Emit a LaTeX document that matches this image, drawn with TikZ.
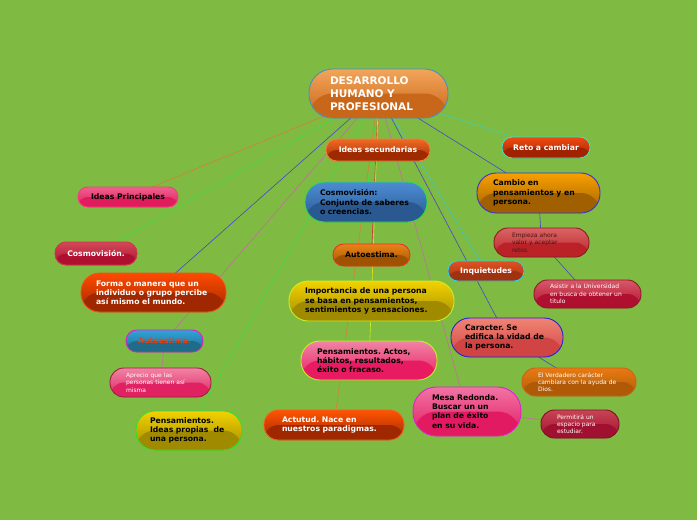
\documentclass[tikz,border=0pt]{standalone}
\usepackage{fontspec}
\setmainfont{DejaVu Sans}
\usetikzlibrary{backgrounds}
\frenchspacing
\definecolor{bgc}{HTML}{7FBA42}
\definecolor{rootT}{HTML}{F2A55A}\definecolor{rootB}{HTML}{C8661A}\definecolor{rootD}{HTML}{4A8EC8}
\definecolor{isT}{HTML}{F26A24}\definecolor{isB}{HTML}{A02A00}\definecolor{isD}{HTML}{F28040}
\definecolor{reT}{HTML}{F04A12}\definecolor{reB}{HTML}{A02200}\definecolor{reD}{HTML}{40E0C0}
\definecolor{ipT}{HTML}{F0608E}\definecolor{ipB}{HTML}{E01C5C}\definecolor{ipD}{HTML}{F04080}
\definecolor{cbT}{HTML}{4C8CD4}\definecolor{cbB}{HTML}{2A5890}\definecolor{cbD}{HTML}{30E040}
\definecolor{caT}{HTML}{F8A000}\definecolor{caB}{HTML}{A06000}\definecolor{caD}{HTML}{3434D8}
\definecolor{drT}{HTML}{D24858}\definecolor{drB}{HTML}{B01030}\definecolor{drD}{HTML}{C83848}
\definecolor{aoT}{HTML}{E88418}\definecolor{aoB}{HTML}{A05200}\definecolor{aoD}{HTML}{E83030}
\definecolor{emT}{HTML}{DA6464}\definecolor{emB}{HTML}{BA2228}\definecolor{emD}{HTML}{8C1C20}
\definecolor{emX}{HTML}{4A1414}
\definecolor{inT}{HTML}{E05224}\definecolor{inB}{HTML}{A03210}\definecolor{inD}{HTML}{28D4E8}
\definecolor{foT}{HTML}{FF4A00}\definecolor{foB}{HTML}{A02800}\definecolor{foD}{HTML}{F05418}
\definecolor{yeT}{HTML}{F2D200}\definecolor{yeB}{HTML}{A08A00}\definecolor{yeD}{HTML}{C8F028}
\definecolor{asT}{HTML}{D85868}\definecolor{asB}{HTML}{B01030}\definecolor{asD}{HTML}{8C1C28}
\definecolor{abT}{HTML}{30A4DA}\definecolor{abB}{HTML}{206A8A}\definecolor{abD}{HTML}{E020C0}
\definecolor{abX}{HTML}{F04010}
\definecolor{crT}{HTML}{F08474}\definecolor{crB}{HTML}{D04444}\definecolor{crD}{HTML}{2424E0}
\definecolor{paT}{HTML}{F084A4}\definecolor{paB}{HTML}{E81A62}\definecolor{paD}{HTML}{C8F028}
\definecolor{apT}{HTML}{F084A4}\definecolor{apB}{HTML}{E02262}\definecolor{apD}{HTML}{A02040}
\definecolor{vdT}{HTML}{E87A12}\definecolor{vdB}{HTML}{B05A08}\definecolor{vdD}{HTML}{C86418}
\definecolor{meT}{HTML}{F274A4}\definecolor{meB}{HTML}{E21A62}\definecolor{meD}{HTML}{E020D8}
\definecolor{piD}{HTML}{30E030}
\definecolor{acT}{HTML}{FF5400}\definecolor{acB}{HTML}{A02800}\definecolor{acD}{HTML}{F06424}
\definecolor{peT}{HTML}{C84454}\definecolor{peB}{HTML}{A01030}\definecolor{peD}{HTML}{801028}
\definecolor{lOr}{HTML}{D88030}\definecolor{lGr}{HTML}{40E040}\definecolor{lBl}{HTML}{4848C8}
\definecolor{lPk}{HTML}{C070A0}\definecolor{lRd}{HTML}{E03030}\definecolor{lYe}{HTML}{E0E020}
\definecolor{lTe}{HTML}{40D0B0}\definecolor{lCy}{HTML}{40C8C8}\definecolor{lYg}{HTML}{C8F020}
\begin{document}
\begin{tikzpicture}[x=1pt,y=-1pt,
  bub/.style n args={3}{draw=#3, line width=0.9pt, top color=#1, bottom color=#2,
     path picture={\fill[#2] (path picture bounding box.west) rectangle (path picture bounding box.south east);}},
  sz/.style n args={2}{minimum width=#1pt, minimum height=#2pt, rounded corners={0.48*#2pt}, inner sep=0pt},
  txt/.style={font=\bfseries\fontsize{7.7}{9.2}\selectfont},
  sm/.style={font=\fontsize{6}{7.3}\selectfont},
  ml/.style={align=left, text width=#1pt},
  conn/.style={line width=0.6pt},
]
\node[bub={rootT}{rootB}{rootD}, sz={139}{49}, font=\bfseries\fontsize{10.5}{13}\selectfont, text=white, ml=97] (root) at (378.5,93.5) {DESARROLLO\\HUMANO Y\\PROFESIONAL};
\node[bub={isT}{isB}{isD}, sz={104}{22}, txt, text=white] (ideasS) at (378,150) {Ideas secundarias};
\node[bub={reT}{reB}{reD}, sz={88}{21}, txt, text=white] (reto) at (546,147.5) {Reto a cambiar};
\node[bub={ipT}{ipB}{ipD}, sz={100}{20}, txt] (ideasP) at (128,197) {Ideas Principales};
\node[bub={cbT}{cbB}{cbD}, sz={122}{40}, txt, ml=92] (cosmoB) at (366,202) {Cosmovisión:\\Conjunto de saberes\\o creencias.};
\node[bub={caT}{caB}{caD}, sz={123}{40}, txt, ml=91] (cambio) at (538.5,193) {Cambio en\\pensamientos y en\\persona.};
\node[bub={drT}{drB}{drD}, sz={82}{23}, txt, text=white] (cosmo) at (96,253.5) {Cosmovisión.};
\node[bub={aoT}{aoB}{aoD}, sz={77}{22}, txt] (autoO) at (371.5,255) {Autoestima.};
\node[bub={emT}{emB}{emD}, sz={95}{29}, sm, text=emX, ml=59] (empieza) at (541.5,242.5) {Empieza ahora\\valor y aceptar\\retos.};
\node[bub={inT}{inB}{inD}, sz={76}{20}, txt, text=white] (inq) at (486,271) {Inquietudes};
\node[bub={foT}{foB}{foD}, sz={145}{39}, txt, text=white, ml=115] (forma) at (153.5,292.5) {Forma o manera que un\\individuo o grupo percibe\\así mismo el mundo.};
\node[bub={yeT}{yeB}{yeD}, sz={165}{40}, txt, ml=133] (imp) at (371.5,301) {Importancia de una persona\\se basa en pensamientos,\\sentimientos y sensaciones.};
\node[bub={asT}{asB}{asD}, sz={107}{28}, sm, text=white, ml=75] (asistir) at (587.5,294) {Asistir a la Universidad\\en busca de obtener un\\titulo};
\node[bub={abT}{abB}{abD}, sz={77}{22}, txt, text=abX] (autoB) at (164.5,341) {Autoestima.};
\node[bub={crT}{crB}{crD}, sz={112}{39}, txt, ml=84] (caracter) at (507,337.5) {Caracter. Se\\edifica la vidad de\\la persona.};
\node[bub={paT}{paB}{paD}, sz={136}{39}, txt, ml=104] (pensA) at (369,360.5) {Pensamientos. Actos,\\hábitos, resultados,\\éxito o fracaso.};
\node[bub={apT}{apB}{apD}, sz={101}{29}, sm, text=white, ml=69] (aprecio) at (160.5,382.5) {Aprecio que las\\personas tienen así\\misma};
\node[bub={vdT}{vdB}{vdD}, sz={114}{28}, sm, text=white, ml=82] (verd) at (579,382) {El Verdadero carácter\\cambiara con la ayuda de\\Dios.};
\node[bub={meT}{meB}{meD}, sz={108}{49}, txt, ml=70] (mesa) at (467,411.5) {Mesa Redonda.\\Buscar un un\\plan de éxito\\en su vida.};
\node[bub={yeT}{yeB}{piD}, sz={106}{39}, txt, ml=78] (pensI) at (189,430.5) {Pensamientos.\\Ideas propias~ de\\una persona.};
\node[bub={acT}{acB}{acD}, sz={140}{30}, txt, text=white, ml=104] (actutud) at (334,425) {Actutud. Nace en\\nuestros paradigmas.};
\node[bub={peT}{peB}{peD}, sz={78}{28}, sm, text=white, ml=46] (perm) at (580,424) {Permitirá un\\espacio para\\estudiar.};
\begin{scope}[on background layer]
\fill[bgc] (0,0) rectangle (697,520);
\draw[conn, draw=lOr] (root.center) -- (ideasP.center);
\draw[conn, draw=lGr] (root.center) -- (cosmo.center);
\draw[conn, draw=lBl] (root.center) -- (forma.center);
\draw[conn, draw=lPk] (root.center) -- (autoB.center);
\draw[conn, draw=lGr] (root.center) -- (pensI.center);
\draw[conn, draw=lPk] (autoB.center) -- (aprecio.center);
\draw[conn, draw=lOr] (root.center) -- (ideasS.center);
\draw[conn, draw=lGr] (root.center) -- (cosmoB.center);
\draw[conn, draw=lRd] (root.center) -- (autoO.center);
\draw[conn, draw=lYe] (root.center) -- (imp.center);
\draw[conn, draw=lYg] (imp.center) -- (pensA.center);
\draw[conn, draw=lOr] (root.center) -- (actutud.center);
\draw[conn, draw=lPk] (root.center) -- (mesa.center);
\draw[conn, draw=lPk] (mesa.center) -- (perm.center);
\draw[conn, draw=lTe] (root.center) -- (reto.center);
\draw[conn, draw=lBl] (root.center) -- (cambio.center);
\draw[conn, draw=lBl] (cambio.center) -- (empieza.center);
\draw[conn, draw=lBl] (empieza.center) -- (asistir.center);
\draw[conn, draw=lCy] (root.center) -- (inq.center);
\draw[conn, draw=lBl] (root.center) -- (caracter.center);
\draw[conn, draw=lBl] (caracter.center) -- (verd.center);
\end{scope}
\end{tikzpicture}
\end{document}
